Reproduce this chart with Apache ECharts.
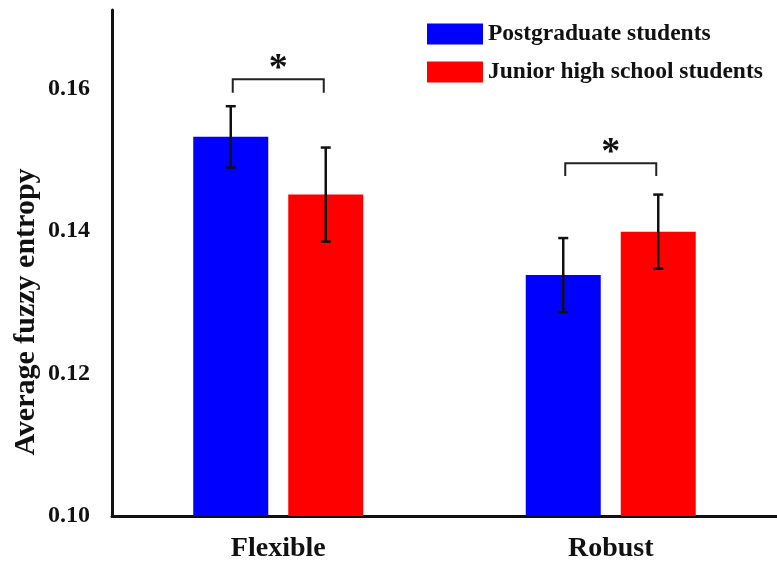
<!DOCTYPE html>
<html>
<head>
<meta charset="utf-8">
<script src="https://cdn.jsdelivr.net/npm/echarts@6/dist/echarts.min.js"></script>
<style>
  html, body { margin: 0; padding: 0; background: #fff; }
  #chart { width: 777px; height: 563px; }
</style>
</head>
<body>
<div id="chart"></div>
<script>
// Conditions and groups
const categories = ['Flexible', 'Robust'];
const seriesNames = ['Postgraduate students', 'Junior high school students'];

// Mean fuzzy entropy per condition
const postgradMeans = [0.1532, 0.1338];
const juniorMeans = [0.1451, 0.1399];

// Error bar half-widths
const postgradErr = [0.0043, 0.0052];
const juniorErr = [0.0066, 0.0052];

// Significance brackets: condition index, bracket height, leg end, marker
const sigCategory = [0, 1];
const sigTop = [0.1613, 0.1495];
const sigLegEnd = [0.1594, 0.1477];
const sigMark = ['*', '*'];

// Axis ticks
const yTicks = [0.10, 0.12, 0.14, 0.16];
const yMin = 0.10, yMax = 0.171, yStep = 0.02;

const FONT = '"Liberation Serif", "DejaVu Serif", serif';
const BAR_W = 75;
const BAR_GAP = 20;
const OFFSET = (BAR_W + BAR_GAP) / 2;

const chart = echarts.init(document.getElementById('chart'), null, { renderer: 'canvas' });

function errorData(means, errs) {
  return means.map((m, i) => [i, m - errs[i], m + errs[i]]);
}

function errorBarSeries(name, means, errs, side) {
  return {
    type: 'custom',
    name: name + ' error',
    z: 5,
    data: errorData(means, errs),
    renderItem: function (params, api) {
      const cx = api.coord([api.value(0), 0])[0] + side * OFFSET;
      const lo = api.coord([api.value(0), api.value(1)])[1];
      const hi = api.coord([api.value(0), api.value(2)])[1];
      const cap = 5;
      const style = { stroke: '#111', lineWidth: 2.5 };
      return {
        type: 'group',
        children: [
          { type: 'line', shape: { x1: cx, y1: hi, x2: cx, y2: lo }, style: style },
          { type: 'line', shape: { x1: cx - cap, y1: hi, x2: cx + cap, y2: hi }, style: style },
          { type: 'line', shape: { x1: cx - cap, y1: lo, x2: cx + cap, y2: lo }, style: style }
        ]
      };
    },
    tooltip: { show: false }
  };
}

const sigData = sigCategory.map((c, i) => [c, sigTop[i], sigLegEnd[i], sigMark[i]]);

option = {
  animation: false,
  backgroundColor: '#ffffff',
  grid: { left: 112, right: 0, top: 10, bottom: 45 },
  legend: {
    orient: 'vertical',
    left: 422,
    top: 17,
    icon: 'rect',
    itemWidth: 56,
    itemHeight: 21,
    itemGap: 14,
    data: seriesNames,
    textStyle: { fontFamily: FONT, fontWeight: 'bold', fontSize: 23.5, color: '#111' }
  },
  xAxis: {
    type: 'category',
    data: categories,
    axisLine: { lineStyle: { color: '#111', width: 3 } },
    axisTick: { show: false },
    axisLabel: { fontFamily: FONT, fontWeight: 'bold', fontSize: 28, color: '#111', margin: 19 }
  },
  yAxis: {
    type: 'value',
    min: yMin,
    max: yMax,
    interval: yStep,
    splitLine: { show: false },
    axisTick: { show: false },
    axisLine: { show: true, lineStyle: { color: '#111', width: 3 } },
    axisLabel: {
      fontFamily: FONT, fontWeight: 'bold', fontSize: 24, color: '#111', margin: 22,
      showMaxLabel: false,
      formatter: function (v) {
        const hit = yTicks.find(t => Math.abs(t - v) < 1e-9);
        return hit === undefined ? '' : hit.toFixed(2);
      }
    }
  },
  graphic: [{
    type: 'text',
    rotation: Math.PI / 2,
    x: 26,
    y: 312,
    style: {
      text: 'Average fuzzy entropy',
      fontFamily: FONT, fontWeight: 'bold', fontSize: 30, fill: '#111',
      textAlign: 'center', textVerticalAlign: 'middle'
    }
  }],
  series: [
    {
      name: seriesNames[0],
      type: 'bar',
      data: postgradMeans,
      barWidth: BAR_W,
      barGap: (BAR_GAP / BAR_W * 100) + '%',
      itemStyle: { color: '#0000ff' }
    },
    {
      name: seriesNames[1],
      type: 'bar',
      data: juniorMeans,
      barWidth: BAR_W,
      itemStyle: { color: '#ff0000' }
    },
    errorBarSeries(seriesNames[0], postgradMeans, postgradErr, -1),
    errorBarSeries(seriesNames[1], juniorMeans, juniorErr, 1),
    {
      type: 'custom',
      name: 'significance',
      z: 6,
      data: sigData,
      renderItem: function (params, api) {
        const cxc = api.coord([api.value(0), 0])[0];
        const x1 = cxc - OFFSET + 2, x2 = cxc + OFFSET - 2;
        const yTop = api.coord([api.value(0), api.value(1)])[1];
        const yLeg = api.coord([api.value(0), api.value(2)])[1];
        const style = { stroke: '#222', lineWidth: 2 };
        return {
          type: 'group',
          children: [
            { type: 'polyline', shape: { points: [[x1, yLeg], [x1, yTop], [x2, yTop], [x2, yLeg]] }, style: Object.assign({ fill: null }, style) },
            {
              type: 'text',
              style: {
                x: (x1 + x2) / 2, y: yTop + 9,
                text: sigData[params.dataIndex][3],
                fontFamily: FONT, fontWeight: 'bold', fontSize: 38, fill: '#111',
                textAlign: 'center', textVerticalAlign: 'bottom'
              }
            }
          ]
        };
      }
    }
  ]
};

chart.setOption(option);
</script>
</body>
</html>
